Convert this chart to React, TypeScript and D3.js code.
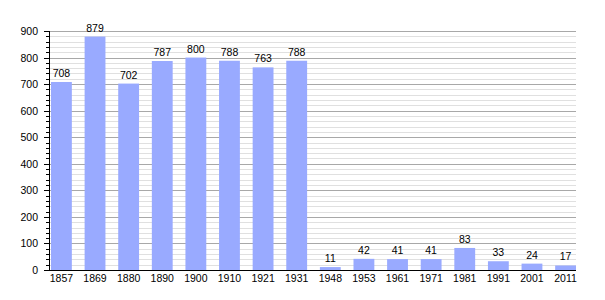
import React from "react";
import * as d3 from "d3";

const categories = ["1857","1869","1880","1890","1900","1910","1921","1931","1948","1953","1961","1971","1981","1991","2001","2011"];
const values = [708, 879, 702, 787, 800, 788, 763, 788, 11, 42, 41, 41, 83, 33, 24, 17];
const yTicks = [0, 100, 200, 300, 400, 500, 600, 700, 800, 900];

const W = 605, H = 300;
const left = 50, right = 576, top = 31, bottom = 270;

export default function App() {
  const x = d3.scaleBand<string>().domain(categories).range([left + 1, right]).paddingInner(0.38).paddingOuter(0);
  const y = d3.scaleLinear().domain([0, 900]).range([bottom, top]);
  const minor = d3.range(0, 901, 20);
  const font = "'Liberation Sans', Arial, sans-serif";
  const fs = 10.5;
  return (
    <svg width={W} height={H} style={{ position: "absolute", left: 0, top: 0 }} fontFamily={font}>
      <rect width={W} height={H} fill="#fff" />
      {minor.filter(v => v % 100 !== 0).map(v => (
        <line key={"m" + v} x1={left} x2={right} y1={Math.round(y(v)) + 0.5} y2={Math.round(y(v)) + 0.5} stroke="#e0e0e0" strokeWidth={1} />
      ))}
      {yTicks.filter(v => v !== 0).map(v => (
        <line key={"g" + v} x1={left} x2={right} y1={Math.round(y(v)) + 0.5} y2={Math.round(y(v)) + 0.5} stroke="#a8a8a8" strokeWidth={1} />
      ))}
      {categories.map((c, i) => (
        <rect key={c} x={x(c)!} y={y(values[i])} width={x.bandwidth()} height={bottom - y(values[i])} fill="#99aaff" />
      ))}
      {categories.map((c, i) => (
        <text key={"v" + c} x={x(c)! + x.bandwidth() / 2} y={y(values[i]) - 5} textAnchor="middle" fontSize={fs} fill="#000">{values[i]}</text>
      ))}
      <line x1={left - 0.5} x2={left - 0.5} y1={top} y2={bottom + 1} stroke="#000" />
      <line x1={left - 1} x2={right} y1={bottom + 0.5} y2={bottom + 0.5} stroke="#000" />
      {minor.map(v => (
        <line key={"t" + v} x1={v % 100 === 0 ? left - 6 : left - 4} x2={left} y1={Math.round(y(v)) + 0.5} y2={Math.round(y(v)) + 0.5} stroke="#000" />
      ))}
      {yTicks.map(v => (
        <text key={"yl" + v} x={left - 12} y={y(v) + 4} textAnchor="end" fontSize={fs} fill="#000">{v}</text>
      ))}
      {categories.map(c => (
        <text key={"xl" + c} x={x(c)! + x.bandwidth() / 2} y={bottom + 12} textAnchor="middle" fontSize={fs} fill="#000">{c}</text>
      ))}
    </svg>
  );
}
